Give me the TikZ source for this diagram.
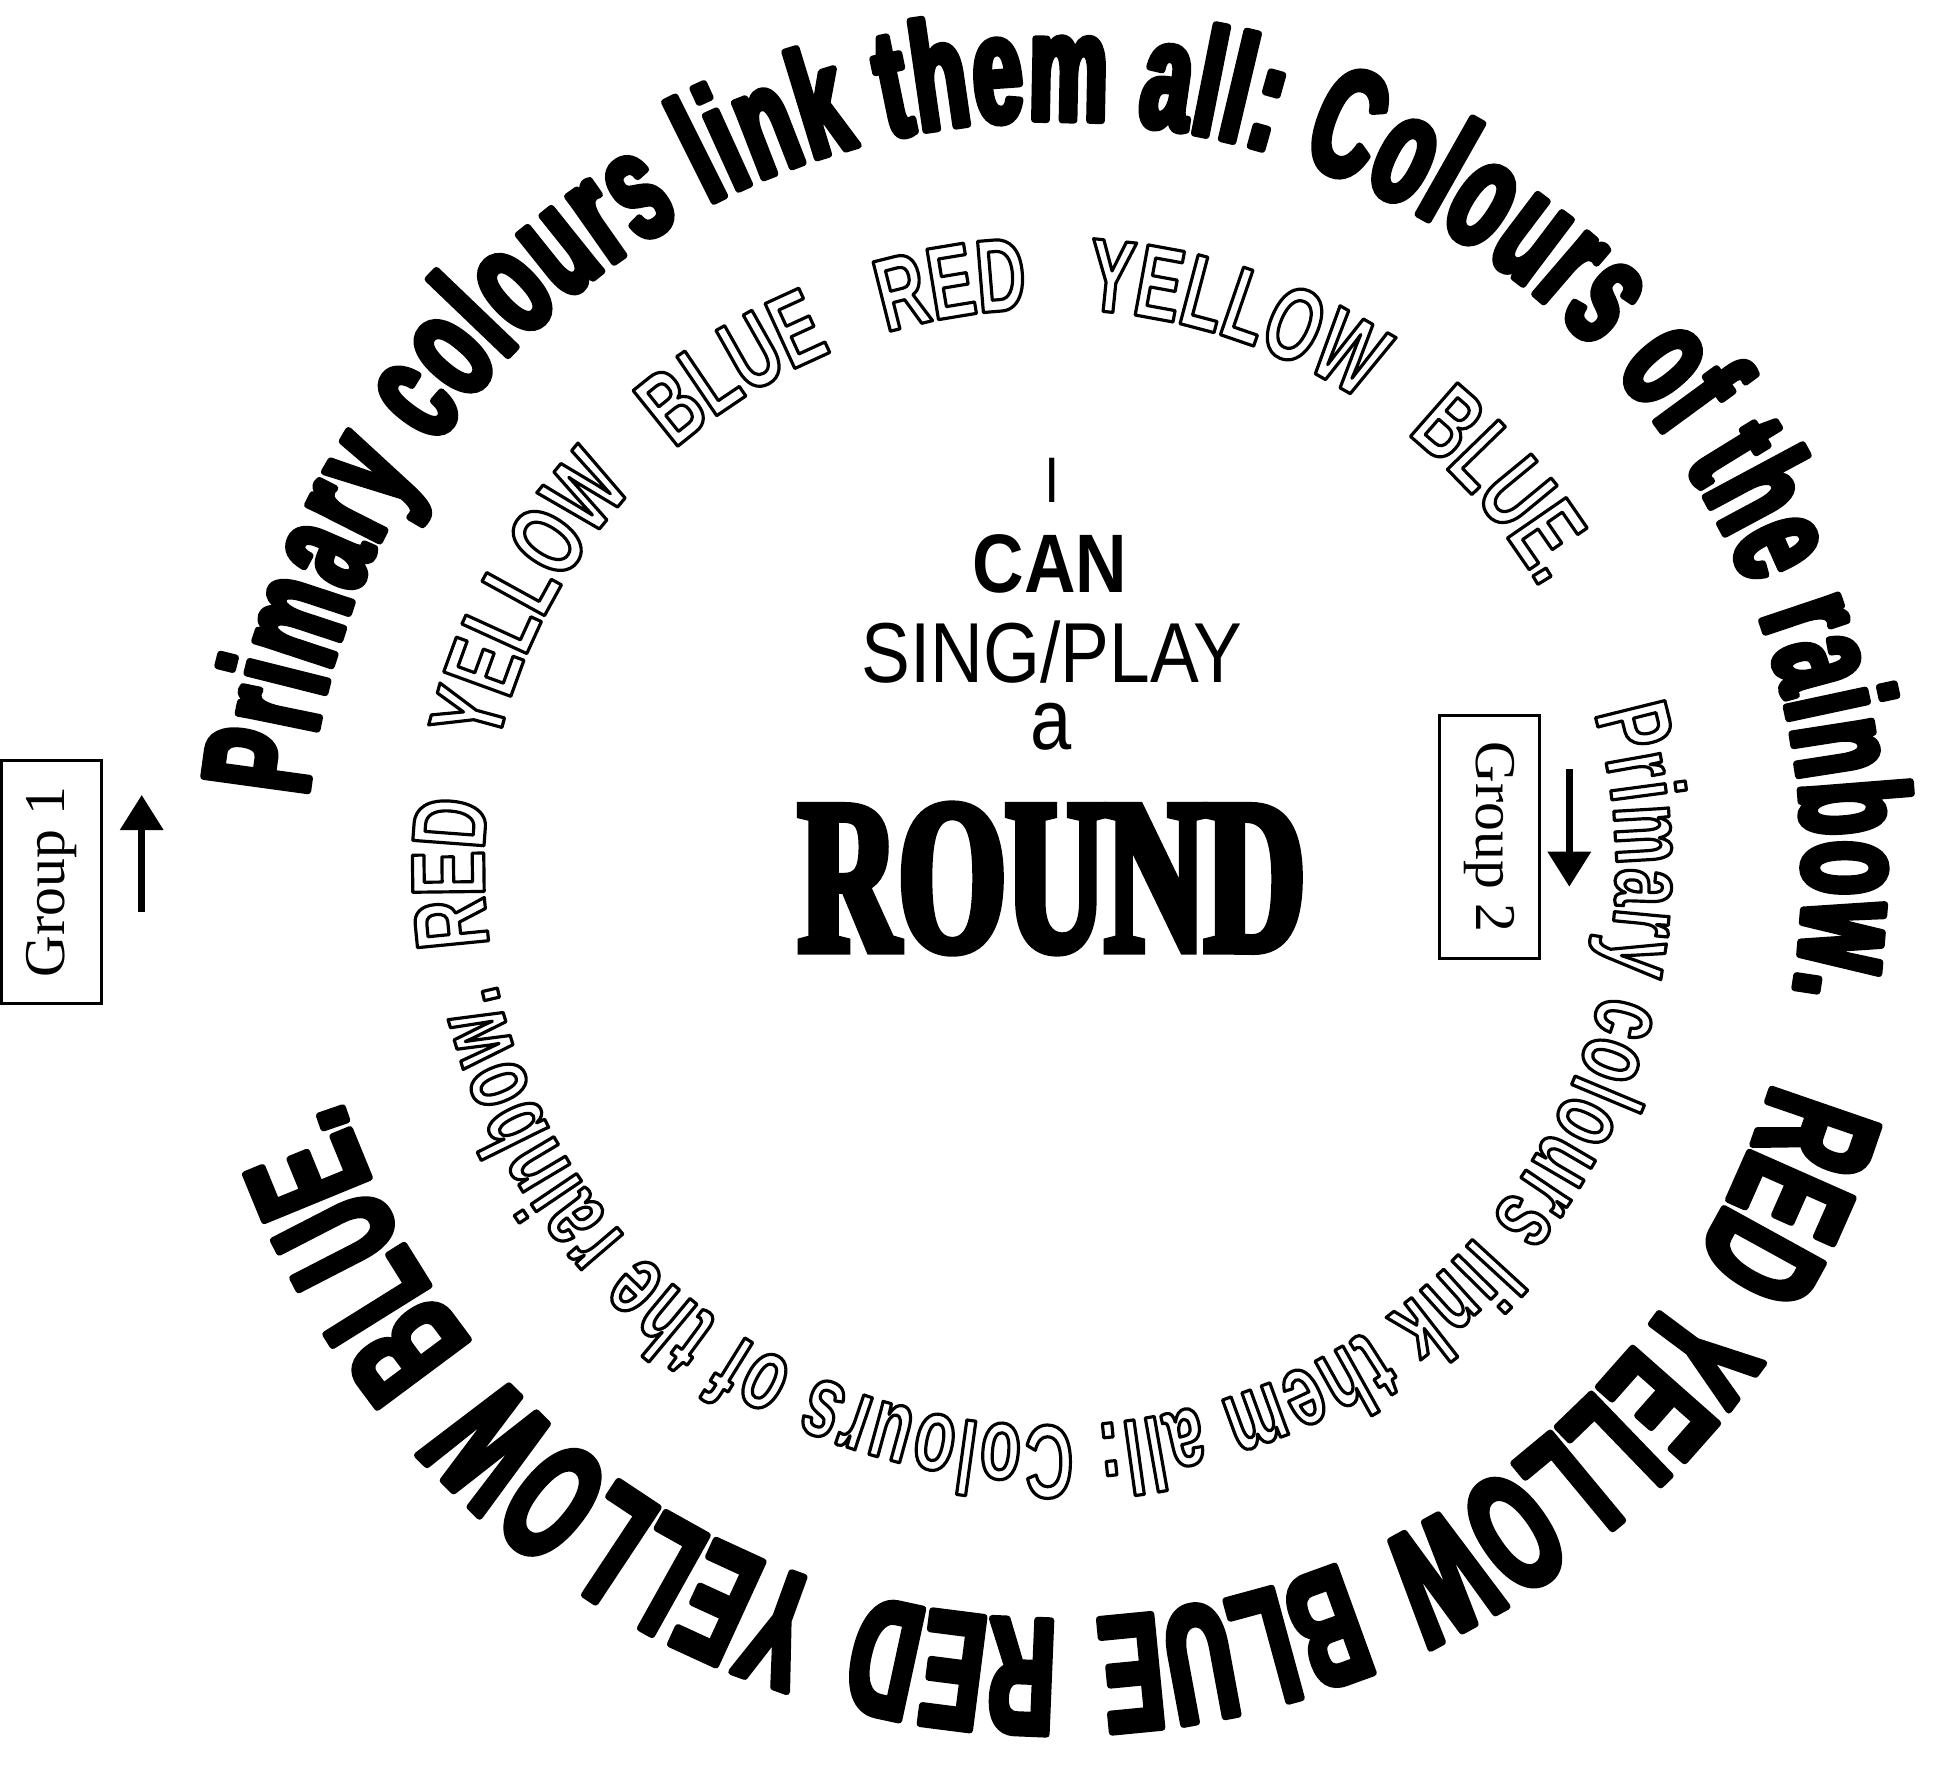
\documentclass[tikz,border=0pt]{standalone}
\usepackage{fontspec}
\usepackage{tikz}
\usetikzlibrary{arrows.meta,positioning,decorations.text}
\setmainfont{Liberation Serif}
\newfontfamily\ringfont[FakeStretch=0.58]{Liberation Sans}
\newfontfamily\ringfontC[FakeStretch=0.56]{Liberation Sans}
\newfontfamily\ringfontA[FakeStretch=0.66]{Liberation Sans}
\newfontfamily\ringfontB[FakeStretch=0.64]{Liberation Sans}
\newfontfamily\centrefont[FakeStretch=0.86]{Liberation Sans}
\newfontfamily\roundfont[FakeStretch=0.63]{Liberation Serif}
\definecolor{roundInk}{RGB}{0,0,0}
% text rendering modes: 1 = outline only, 2 = fill and stroke
\newcommand\hollowtext{\special{pdf:literal direct 1 Tr 0.9 w 1 j}}
\newcommand\heavytext{\special{pdf:literal direct 2 Tr 1.9 w 1 j}}
\newcommand\blocktext{\special{pdf:literal direct 2 Tr 2.6 w 0 j}}
\newcommand\outerwords{\ringfont\bfseries\fontsize{43.5pt}{44pt}\selectfont\heavytext}
\newcommand\outercaps{\ringfontC\bfseries\fontsize{47pt}{47pt}\selectfont\heavytext}
\newcommand\innercaps{\ringfontA\bfseries\fontsize{29.5pt}{30pt}\selectfont\hollowtext}
\newcommand\innerwords{\ringfontB\bfseries\fontsize{29.5pt}{30pt}\selectfont\hollowtext}

\begin{document}
\begin{tikzpicture}[x=0.01cm, y=0.01cm, >=Latex]
\tikzstyle{word}=[inner sep=0pt, anchor=base, text=roundInk]
\tikzstyle{grp}=[draw=roundInk, line width=0.85pt, minimum width=69pt, minimum height=28.5pt, inner sep=0pt, font=\fontsize{16.4pt}{18pt}\selectfont]
\tikzstyle{flow}=[-{Triangle[length=10pt,width=12pt]}, line width=1.9pt, roundInk]
\tikzstyle{ring}=[decorate, decoration={text along path, text align={fit to path}}]
\tikzstyle{capring}=[decorate, decoration={text along path, text align={fit to path stretching spaces}}]

\useasboundingbox (0,0) rectangle (1949,-1764);

\coordinate (outerc) at (1054,-870);
\coordinate (innerc) at (1050,-867.5);

% outer ring, solid letters
\path[ring, decoration={text={|\outerwords|Primary colours link them all: Colours of the rainbow.}}]
  ([shift={(174.4:750)}]outerc) arc[start angle=174.4, end angle=-9.5, radius=750];
\path[capring, decoration={text={|\outercaps|RED YELLOW BLUE RED YELLOW BLUE.}}]
  ([shift={(-16.5:750)}]outerc) arc[start angle=-16.5, end angle=-162, radius=750];

% inner ring, hollow letters
\path[capring, decoration={text={|\innercaps|RED YELLOW BLUE RED YELLOW BLUE.}}]
  ([shift={(188:566 and 558.5)}]innerc) arc[start angle=188, end angle=30, x radius=566, y radius=558.5];
\path[ring, decoration={text={|\innerwords|Primary colours link them all: Colours of the rainbow.}}]
  ([shift={(16:566 and 558.5)}]innerc) arc[start angle=16, end angle=-168, x radius=566, y radius=558.5];

% centre
\node[word, font=\centrefont\fontsize{18.3pt}{20pt}\selectfont] (i) at (1052,-502) {I};
\node[word, font=\centrefont\bfseries\fontsize{23.6pt}{25pt}\selectfont] (can) at (1050,-592) {CAN};
\node[word, font=\centrefont\fontsize{24.2pt}{26pt}\selectfont] (sing) at (1052,-682) {SING/PLAY};
\node[word, font=\centrefont\fontsize{24.5pt}{26pt}\selectfont] (a) at (1051,-749) {a};
\node[word, font=\roundfont\bfseries\fontsize{62.3pt}{64pt}\selectfont\blocktext] (round) at (1052,-950) {ROUND};

% groups
\node[grp, rotate=90] (grp1) at (51.7,-882) {Group 1};
\node[grp, rotate=-90] (grp2) at (1489.3,-837) {Group 2};
\coordinate (g1tail) at (141.7,-911.7);
\coordinate (g1tip) at (141.7,-795);
\coordinate (g2tail) at (1569.3,-769.3);
\coordinate (g2tip) at (1569.3,-886.7);
\draw[flow] (g1tail) -- (g1tip);
\draw[flow] (g2tail) -- (g2tip);
\end{tikzpicture}
\end{document}
